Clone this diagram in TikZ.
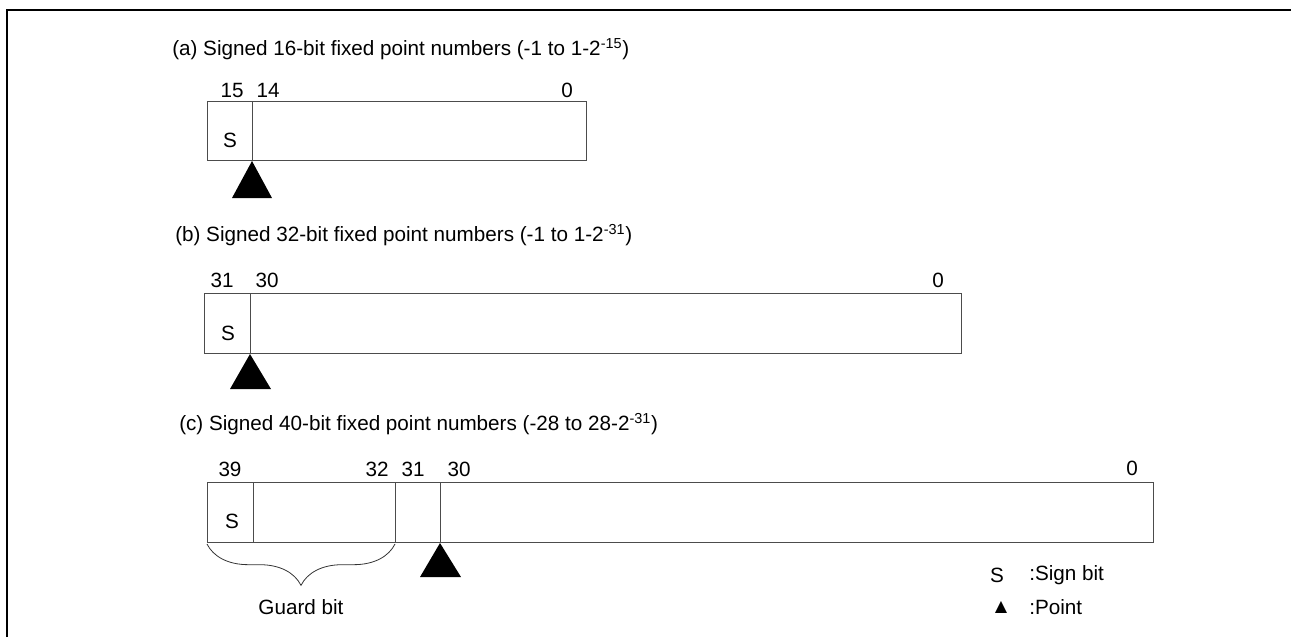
\documentclass[tikz,border=0pt]{standalone}
\usepackage{fontspec}
\setmainfont{Liberation Sans}
\usetikzlibrary{decorations.pathreplacing}

\begin{document}
\begin{tikzpicture}[
  x=0.75pt, y=-0.75pt,
  field/.style={draw=black!70, line width=0.6pt},
  frame/.style={draw=black, line width=1.1pt},
  txt/.style={font=\fontsize{15.5}{18}\selectfont, inner sep=0pt},
  heading/.style={txt, anchor=west},
  pointmark/.style={fill=black},
  guard/.style={draw=black!80, line width=0.6pt,
    decorate, decoration={brace, mirror, amplitude=31pt}}
]

\useasboundingbox (0,0) rectangle (1291,637);

% Frame (cut at the page edges)
\draw[frame] (7,637) -- (7,10) -- (1291,10);

% ==================== (a) 16-bit ====================
\node[heading] (ha) at (172,49) {(a) Signed 16-bit fixed point numbers (-1 to 1-2\textsuperscript{-15})};

\draw[field] (207,101) rectangle (586,160);
\draw[field] (252,101) -- (252,160);

\node[txt] (a15) at (232,90) {15};
\node[txt] (a14) at (268,90) {14};
\node[txt] (a0) at (567,90) {0};
\node[txt] (as) at (230,140) {S};

\fill[pointmark] (252,161) -- (232,198) -- (272,198) -- cycle;

% ==================== (b) 32-bit ====================
\node[heading] (hb) at (175,235) {(b) Signed 32-bit fixed point numbers (-1 to 1-2\textsuperscript{-31})};

\draw[field] (204,293) rectangle (961,353);
\draw[field] (250,293) -- (250,353);

\node[txt] (b31) at (222,280) {31};
\node[txt] (b30) at (267,280) {30};
\node[txt] (b0) at (938,280) {0};
\node[txt] (bs) at (228,333) {S};

\fill[pointmark] (250,354) -- (230,389) -- (271,389) -- cycle;

% ==================== (c) 40-bit ====================
\node[heading] (hc) at (179,424) {(c) Signed 40-bit fixed point numbers (-28 to 28-2\textsuperscript{-31})};

\draw[field] (207,482) rectangle (1153,542);
\foreach \xdiv in {253,395,440}
  \draw[field] (\xdiv,482) -- (\xdiv,542);

\node[txt] (c39) at (230,469) {39};
\node[txt] (c32) at (377,469) {32};
\node[txt] (c31) at (413,469) {31};
\node[txt] (c30) at (459,469) {30};
\node[txt] (c0) at (1132,468) {0};
\node[txt] (cs) at (232,521) {S};

\fill[pointmark] (440,543) -- (420,577) -- (461,577) -- cycle;

% Guard bits
\coordinate (gl) at (207,544);
\coordinate (gr) at (395,544);
\draw[guard] (gl) -- (gr);
\node[txt] (gb) at (301,607) {Guard bit};

% Legend
\node[txt] (ls) at (997,575) {S};
\node[txt, anchor=west] (lsign) at (1029,575) {:Sign bit};
\node[txt] (lp) at (1001,607) {▲};
\node[txt, anchor=west] (lpoint) at (1029,607) {:Point};

\end{tikzpicture}
\end{document}
